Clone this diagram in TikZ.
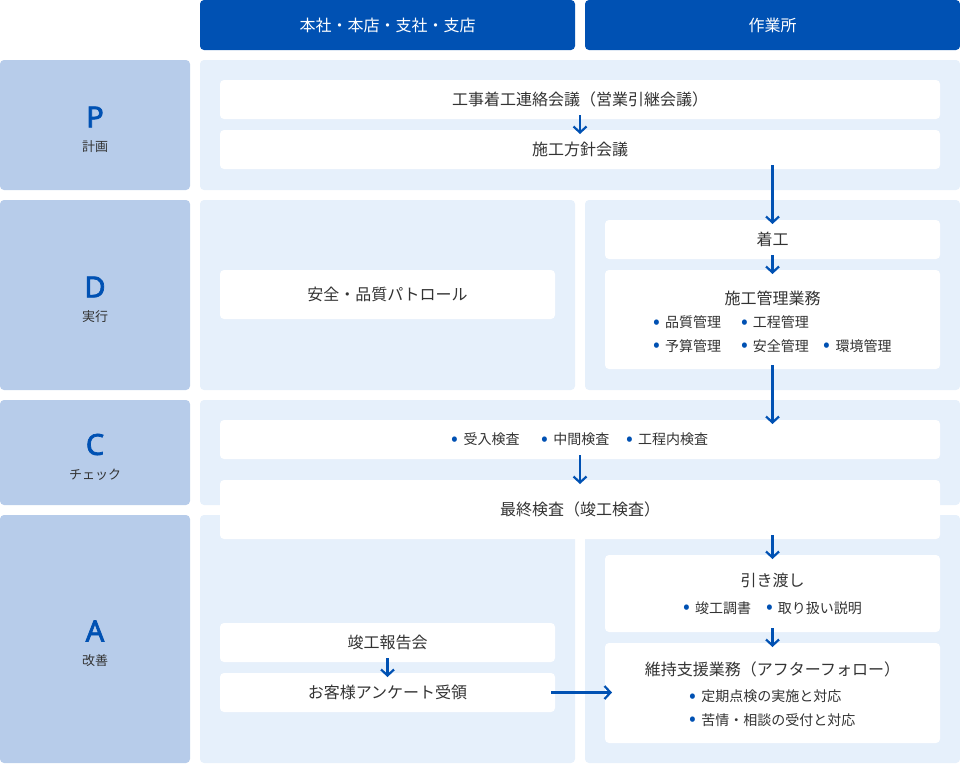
\documentclass[tikz,border=0pt]{standalone}
\usepackage{fontspec}
\setmainfont{Noto Sans CJK JP}
\newfontfamily\phasefont{Noto Sans}[FakeBold=2.5]
\usetikzlibrary{arrows.meta}
\definecolor{hdblue}{RGB}{0,81,179}
\definecolor{phasebg}{RGB}{183,204,234}
\definecolor{panelbg}{RGB}{230,240,251}
\definecolor{ink}{RGB}{51,51,51}
\newcommand{\bul}{\textcolor{hdblue}{\raisebox{-0.5pt}{\fontsize{20}{20}\selectfont•}}\hspace{5pt}}
\newcommand{\subfont}{\fontsize{14}{23.5}\selectfont}

\begin{document}
\begin{tikzpicture}[x=1pt, y=-1pt,
  every node/.style={inner sep=0pt, outer sep=0pt, anchor=north west},
  head/.style={fill=hdblue, rounded corners=4pt, text=white,
               font=\fontsize{16}{18}\selectfont,
               minimum width=375pt, minimum height=50pt},
  phase/.style={fill=phasebg, rounded corners=4pt, minimum width=190pt},
  letter/.style={anchor=center, text=hdblue,
                 font=\phasefont\fontsize{29}{29}\selectfont},
  phasetxt/.style={anchor=center, text=ink, font=\fontsize{13}{16}\selectfont},
  panel/.style={fill=panelbg, rounded corners=4pt},
  box/.style={fill=white, rounded corners=4pt, text=ink, align=center,
              font=\fontsize{16}{20}\selectfont},
  flow/.style={-{Straight Barb[length=6pt, width=13pt]}, hdblue,
               line width=2.2pt, shorten <=-4pt, shorten >=-4pt}]
\useasboundingbox (0,0) rectangle (960,764);

% column heads
\node[head] (hoffice) at (200,0) {本社・本店・支社・支店};
\node[head] (hsite) at (585,0) {作業所};

% PDCA labels
\node[phase, minimum height=130pt] (lplan) at (0,60) {};
\node[phase, minimum height=190pt] (ldo) at (0,200) {};
\node[phase, minimum height=105pt] (lcheck) at (0,400) {};
\node[phase, minimum height=248pt] (lact) at (0,515) {};
\foreach \ph/\ltr/\lbl in {lplan/P/計画, ldo/D/実行, lcheck/C/チェック, lact/A/改善}{
  \node[letter] (\ph-l) at ([yshift=8pt]\ph.center) {\ltr};
  \node[phasetxt] (\ph-t) at ([yshift=-22pt]\ph.center) {\lbl};
}

% panels
\node[panel, minimum width=760pt, minimum height=130pt] (pplan) at (200,60) {};
\node[panel, minimum width=375pt, minimum height=190pt] (pdoL) at (200,200) {};
\node[panel, minimum width=375pt, minimum height=190pt] (pdoR) at (585,200) {};
\node[panel, minimum width=760pt, minimum height=105pt] (pcheck) at (200,400) {};
\node[panel, minimum width=375pt, minimum height=248pt] (pactL) at (200,515) {};
\node[panel, minimum width=375pt, minimum height=248pt] (pactR) at (585,515) {};

% boxes
\node[box, minimum width=720pt, minimum height=39pt] (kickoff) at (220,80)
  {工事着工連絡会議（営業引継会議）};
\node[box, minimum width=720pt, minimum height=39pt] (policy) at (220,130)
  {施工方針会議};
\node[box, minimum width=335pt, minimum height=49pt] (patrol) at (220,270)
  {安全・品質パトロール};
\node[box, minimum width=335pt, minimum height=39pt] (start) at (605,220)
  {着工};
\node[box, minimum width=335pt, minimum height=99pt] (manage) at (605,270)
  {\rule{0pt}{24pt}施工管理業務\\[3pt]
   {\subfont\begin{tabular}[t]{@{}l@{\hspace{20pt}}l@{\hspace{15pt}}l@{}}
     \bul 品質管理 & \bul 工程管理 & \\
     \bul 予算管理 & \bul 安全管理 & \bul 環境管理
   \end{tabular}}};
\node[box, minimum width=720pt, minimum height=39pt] (inspect) at (220,420)
  {\subfont\bul 受入検査\hspace{22pt}\bul 中間検査\hspace{17pt}\bul 工程内検査};
\node[box, minimum width=720pt, minimum height=59pt] (final) at (220,480)
  {最終検査（竣工検査）};
\node[box, minimum width=335pt, minimum height=77pt] (handover) at (605,555)
  {引き渡し\\[7pt]
   {\subfont\bul 竣工調書\hspace{15pt}\bul 取り扱い説明}};
\node[box, minimum width=335pt, minimum height=100pt] (support) at (605,643)
  {\rule{0pt}{22pt}維持支援業務（アフターフォロー）\\[6pt]
   {\subfont\begin{tabular}[t]{@{}l@{}}
     \bul 定期点検の実施と対応\\
     \bul 苦情・相談の受付と対応
   \end{tabular}}};
\node[box, minimum width=335pt, minimum height=39pt] (report) at (220,623)
  {竣工報告会};
\node[box, minimum width=335pt, minimum height=39pt] (survey) at (220,673)
  {お客様アンケート受領};

% flow
\draw[flow] (kickoff.south) -- (policy.north);
\draw[flow] (policy.south -| start.north) -- (start.north);
\draw[flow] (start.south) -- (manage.north);
\draw[flow] (manage.south) -- (manage.south |- inspect.north);
\draw[flow] (inspect.south) -- (final.north);
\draw[flow] (final.south -| handover.north) -- (handover.north);
\draw[flow] (handover.south) -- (support.north);
\draw[flow] (report.south) -- (survey.north);
\draw[flow, shorten >=-7pt] (survey.east) -- (survey.east -| support.west);
\end{tikzpicture}
\end{document}
